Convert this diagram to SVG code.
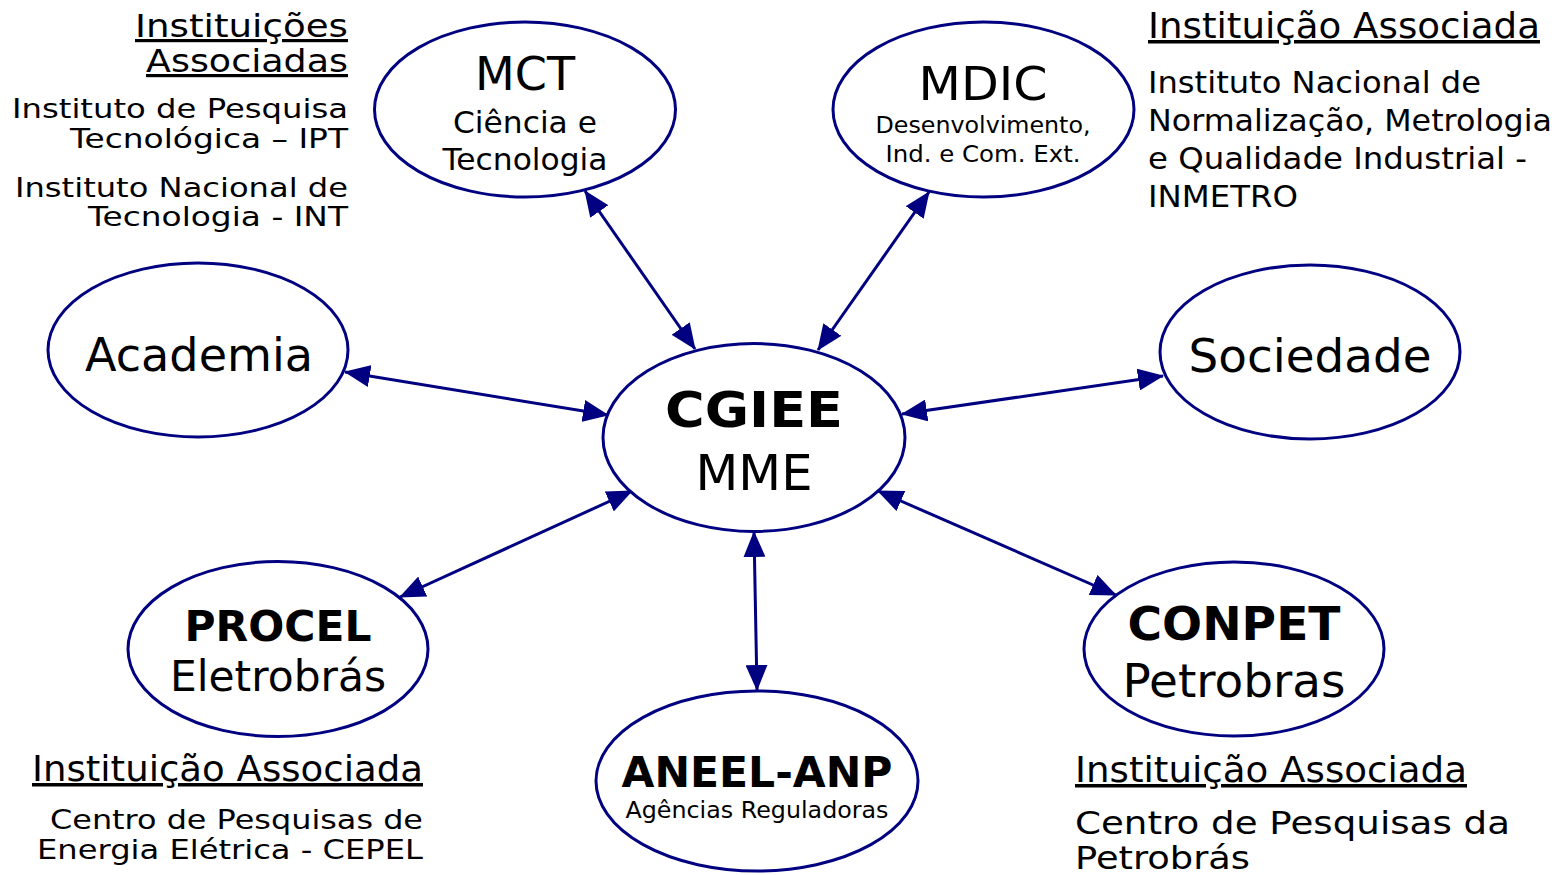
<svg xmlns="http://www.w3.org/2000/svg" width="1566" height="875" viewBox="0 0 1566 875">
<style>
  .node ellipse { fill: #ffffff; stroke: #000080; stroke-width: 3; }
  text { font-family: "DejaVu Sans", "Liberation Sans", sans-serif; fill: #000000; }
  .b { font-weight: bold; }
  .u { text-decoration: underline; }
  .m { text-anchor: middle; }
  .e { text-anchor: end; }
  .conn line { stroke: #000080; stroke-width: 3; marker-start: url(#ah); marker-end: url(#ah); }
</style>
<defs>
  <marker id="ah" viewBox="0 0 26 22" refX="25" refY="11" markerWidth="26" markerHeight="22" markerUnits="userSpaceOnUse" orient="auto-start-reverse">
    <path d="M0,0 L26,11 L0,22 z" fill="#000080"/>
  </marker>
</defs>
<rect width="1566" height="875" fill="#ffffff"/>

<g id="connectors" class="conn">
  <line x1="585" y1="191" x2="695" y2="349"/>
  <line x1="929" y1="192" x2="818" y2="350"/>
  <line x1="345" y1="372" x2="608" y2="415"/>
  <line x1="1163" y1="376" x2="902" y2="414"/>
  <line x1="400" y1="597" x2="632" y2="491"/>
  <line x1="1116" y1="595" x2="878" y2="491"/>
  <line x1="757" y1="690" x2="754" y2="532"/>
</g>

<g id="mct" class="node">
  <ellipse cx="525" cy="109.5" rx="150.5" ry="87.5"/>
  <text class="m" x="525" y="90" font-size="46" textLength="100" lengthAdjust="spacingAndGlyphs">MCT</text>
  <text class="m" x="525" y="133" font-size="31" textLength="144" lengthAdjust="spacingAndGlyphs">Ciência e</text>
  <text class="m" x="525" y="170" font-size="31" textLength="165" lengthAdjust="spacingAndGlyphs">Tecnologia</text>
</g>

<g id="mdic" class="node">
  <ellipse cx="983.5" cy="109.5" rx="150.5" ry="87.5"/>
  <text class="m" x="983" y="100" font-size="47" textLength="129" lengthAdjust="spacingAndGlyphs">MDIC</text>
  <text class="m" x="983" y="133" font-size="23" textLength="215" lengthAdjust="spacingAndGlyphs">Desenvolvimento,</text>
  <text class="m" x="983" y="162" font-size="23" textLength="195" lengthAdjust="spacingAndGlyphs">Ind. e Com. Ext.</text>
</g>

<g id="academia" class="node">
  <ellipse cx="198" cy="350" rx="150" ry="87"/>
  <text class="m" x="199" y="371" font-size="46" textLength="228" lengthAdjust="spacingAndGlyphs">Academia</text>
</g>

<g id="sociedade" class="node">
  <ellipse cx="1310" cy="352" rx="150" ry="87"/>
  <text class="m" x="1310" y="372" font-size="46" textLength="243" lengthAdjust="spacingAndGlyphs">Sociedade</text>
</g>

<g id="cgiee" class="node">
  <ellipse cx="754" cy="437.5" rx="151" ry="94"/>
  <text class="m b" x="754" y="427" font-size="50" textLength="178" lengthAdjust="spacingAndGlyphs">CGIEE</text>
  <text class="m" x="754" y="490" font-size="50" textLength="117" lengthAdjust="spacingAndGlyphs">MME</text>
</g>

<g id="procel" class="node">
  <ellipse cx="278" cy="649" rx="150" ry="87.5"/>
  <text class="m b" x="278" y="641" font-size="42" textLength="187" lengthAdjust="spacingAndGlyphs">PROCEL</text>
  <text class="m" x="278" y="691" font-size="42" textLength="216" lengthAdjust="spacingAndGlyphs">Eletrobrás</text>
</g>

<g id="conpet" class="node">
  <ellipse cx="1234" cy="649" rx="150" ry="87"/>
  <text class="m b" x="1234" y="640" font-size="46" textLength="213" lengthAdjust="spacingAndGlyphs">CONPET</text>
  <text class="m" x="1234" y="697" font-size="46" textLength="223" lengthAdjust="spacingAndGlyphs">Petrobras</text>
</g>

<g id="aneel" class="node">
  <ellipse cx="757" cy="781" rx="161" ry="90"/>
  <text class="m b" x="757" y="787" font-size="42" textLength="271" lengthAdjust="spacingAndGlyphs">ANEEL-ANP</text>
  <text class="m" x="757" y="818" font-size="23" textLength="263" lengthAdjust="spacingAndGlyphs">Agências Reguladoras</text>
</g>

<g id="inst-mct">
  <text class="e u" x="348" y="37" font-size="32" textLength="213" lengthAdjust="spacingAndGlyphs">Instituições</text>
  <text class="e u" x="348" y="72" font-size="32" textLength="202" lengthAdjust="spacingAndGlyphs">Associadas</text>
  <text class="e" x="348" y="118" font-size="27" textLength="336" lengthAdjust="spacingAndGlyphs">Instituto de Pesquisa</text>
  <text class="e" x="348" y="148" font-size="27" textLength="278" lengthAdjust="spacingAndGlyphs">Tecnológica – IPT</text>
  <text class="e" x="348" y="197" font-size="27" textLength="333" lengthAdjust="spacingAndGlyphs">Instituto Nacional de</text>
  <text class="e" x="348" y="226" font-size="27" textLength="260" lengthAdjust="spacingAndGlyphs">Tecnologia - INT</text>
</g>

<g id="inst-mdic">
  <text class="u" x="1148" y="38" font-size="35" textLength="392" lengthAdjust="spacingAndGlyphs">Instituição Associada</text>
  <text x="1148" y="93" font-size="30" textLength="333" lengthAdjust="spacingAndGlyphs">Instituto Nacional de</text>
  <text x="1148" y="131" font-size="30" textLength="404" lengthAdjust="spacingAndGlyphs">Normalização, Metrologia</text>
  <text x="1148" y="169" font-size="30" textLength="379" lengthAdjust="spacingAndGlyphs">e Qualidade Industrial -</text>
  <text x="1148" y="207" font-size="30" textLength="150" lengthAdjust="spacingAndGlyphs">INMETRO</text>
</g>

<g id="inst-procel">
  <text class="e u" x="423" y="781" font-size="35" textLength="391" lengthAdjust="spacingAndGlyphs">Instituição Associada</text>
  <text class="e" x="423" y="829" font-size="27" textLength="373" lengthAdjust="spacingAndGlyphs">Centro de Pesquisas de</text>
  <text class="e" x="423" y="859" font-size="27" textLength="386" lengthAdjust="spacingAndGlyphs">Energia Elétrica - CEPEL</text>
</g>

<g id="inst-conpet">
  <text class="u" x="1075" y="782" font-size="35" textLength="392" lengthAdjust="spacingAndGlyphs">Instituição Associada</text>
  <text x="1075" y="834" font-size="32" textLength="435" lengthAdjust="spacingAndGlyphs">Centro de Pesquisas da</text>
  <text x="1075" y="869" font-size="32" textLength="175" lengthAdjust="spacingAndGlyphs">Petrobrás</text>
</g>
</svg>
